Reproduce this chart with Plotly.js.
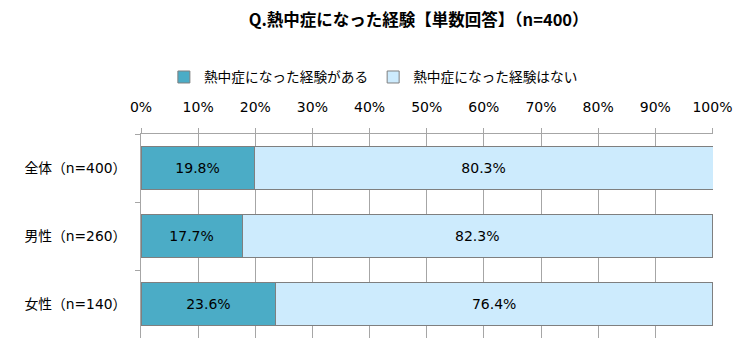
<!DOCTYPE html>
<html><head><meta charset="utf-8">
<script src="https://cdn.plot.ly/plotly-3.0.1.min.js"></script>
<style>html,body{margin:0;padding:0;background:#fff}</style>
</head><body><div id="chart" style="width:745px;height:352px"></div>
<script>
const categories = ['全体（n=400）', '男性（n=260）', '女性（n=140）'];
const seriesNames = ['熱中症になった経験がある', '熱中症になった経験はない'];
const valuesYes = [19.8, 17.7, 23.6];
const valuesNo = [80.3, 82.3, 76.4];
const xTickVals = [0,10,20,30,40,50,60,70,80,90,100];
const xTickText = ['0%','10%','20%','30%','40%','50%','60%','70%','80%','90%','100%'];

const FONT = '"DejaVu Sans", "Noto Sans CJK JP", sans-serif';
const JP = '"Noto Sans CJK JP", sans-serif';
const colors = ['#4bacc6', '#cdebfd'];
const data = [valuesYes, valuesNo].map((vals, i) => ({
  type: 'bar', orientation: 'h',
  name: seriesNames[i], y: categories, x: vals,
  text: vals.map(v => v.toFixed(1) + '%'),
  textposition: 'inside', insidetextanchor: 'middle', constraintext: 'none',
  textfont: {family: FONT, size: 14, color: '#000'},
  marker: {color: colors[i], line: {color: '#7f7f7f', width: 1}},
  width: 0.63, hoverinfo: 'none', cliponaxis: false
}));

const layout = {
  width: 745, height: 352,
  margin: {l: 141, r: 32.4, t: 134, b: 14, pad: 0},
  barmode: 'stack', bargap: 0.37,
  paper_bgcolor: '#fff', plot_bgcolor: '#fff',
  font: {family: FONT, size: 12, color: '#000'},
  title: {text: '<b>Q.熱中症になった経験【単数回答】（n=400）</b>', x: 0.562, xanchor: 'center', y: 0.943, yanchor: 'middle',
    font: {family: JP, size: 16.5, color: '#000'}},
  showlegend: true,
  legend: {orientation: 'h', x: 0.04, xanchor: 'left', y: 1.279, yanchor: 'middle',
    font: {family: JP, size: 13.7, color: '#000'},
    itemwidth: 30, tracegroupgap: 0, traceorder: 'normal'},
  xaxis: {side: 'top', range: [0, 100.1], tickvals: xTickVals, ticktext: xTickText,
    showgrid: true, gridcolor: '#a6a6a6', gridwidth: 1, showline: true, linecolor: '#a6a6a6',
    ticks: 'outside', ticklen: 5, tickcolor: '#a6a6a6', zeroline: false, ticklabelstandoff: 10,
    tickfont: {family: FONT, size: 14, color: '#000'}, fixedrange: true},
  yaxis: {autorange: 'reversed', type: 'category', showline: true, linecolor: '#a6a6a6',
    ticks: 'outside', ticklen: 5, tickcolor: '#a6a6a6', tickson: 'boundaries',
    showgrid: false, ticklabelstandoff: 11,
    tickfont: {family: FONT, size: 13.8, color: '#000'}, fixedrange: true}
};
Plotly.newPlot('chart', data, layout, {displayModeBar: false, staticPlot: true});
</script></body></html>
